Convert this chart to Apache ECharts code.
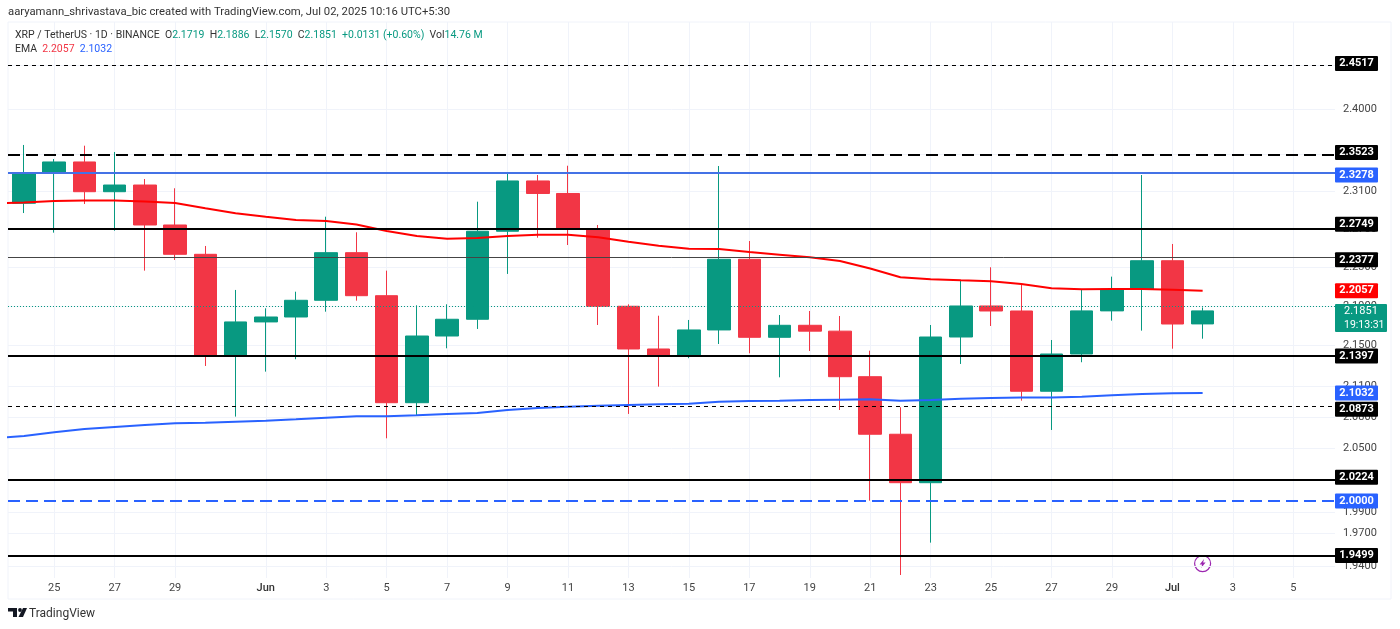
<!DOCTYPE html>
<html>
<head>
<meta charset="utf-8">
<title>XRP / TetherUS</title>
<script src="https://cdn.jsdelivr.net/npm/echarts@6/dist/echarts.min.js"></script>
<style>
    html, body { margin: 0; padding: 0; background: #fff; }
    #chart { width: 1400px; height: 629px; }
</style>
</head>
<body>
<div id="chart"></div>
<script>
const dates = ['2025-05-24', '2025-05-25', '2025-05-26', '2025-05-27', '2025-05-28', '2025-05-29', '2025-05-30', '2025-05-31',
    '2025-06-01', '2025-06-02', '2025-06-03', '2025-06-04', '2025-06-05', '2025-06-06', '2025-06-07', '2025-06-08',
    '2025-06-09', '2025-06-10', '2025-06-11', '2025-06-12', '2025-06-13', '2025-06-14', '2025-06-15', '2025-06-16',
    '2025-06-17', '2025-06-18', '2025-06-19', '2025-06-20', '2025-06-21', '2025-06-22', '2025-06-23', '2025-06-24',
    '2025-06-25', '2025-06-26', '2025-06-27', '2025-06-28', '2025-06-29', '2025-06-30', '2025-07-01', '2025-07-02']
const opens = [2.2973, 2.3302, 2.3419, 2.3097, 2.3169, 2.2742, 2.2434, 2.1397,
    2.1739, 2.1789, 2.1959, 2.2451, 2.2006, 2.0937, 2.1597, 2.1766,
    2.2676, 2.3213, 2.3078, 2.2703, 2.1898, 2.1467, 2.1392, 2.1658,
    2.2382, 2.1584, 2.1705, 2.1646, 2.1192, 2.0632, 2.0172, 2.1587,
    2.1901, 2.1850, 2.1049, 2.1417, 2.1851, 2.2072, 2.2367, 2.1719]
const closes = [2.3302, 2.3419, 2.3097, 2.3169, 2.2742, 2.2434, 2.1397, 2.1739,
    2.1789, 2.1959, 2.2451, 2.2006, 2.0937, 2.1597, 2.1766, 2.2676,
    2.3213, 2.3078, 2.2703, 2.1898, 2.1467, 2.1392, 2.1658, 2.2382,
    2.1584, 2.1705, 2.1646, 2.1192, 2.0632, 2.0172, 2.1587, 2.1901,
    2.1850, 2.1049, 2.1417, 2.1851, 2.2072, 2.2367, 2.1718, 2.1851]
const lows = [2.2869, 2.2661, 2.2965, 2.2682, 2.2264, 2.2375, 2.1298, 2.0802,
    2.1242, 2.1365, 2.1843, 2.1955, 2.0593, 2.0818, 2.1474, 2.1668,
    2.2230, 2.2608, 2.2531, 2.1708, 2.0828, 2.1094, 2.1375, 2.1517,
    2.1424, 2.1186, 2.1447, 2.0866, 2.0004, 1.9324, 1.9617, 2.1318,
    2.1698, 2.0957, 2.0673, 2.1335, 2.1752, 2.1651, 2.1470, 2.1570]
const highs = [2.3605, 2.3451, 2.3597, 2.3528, 2.3234, 2.3134, 2.2521, 2.2065,
    2.1877, 2.2047, 2.2830, 2.2665, 2.2264, 2.1908, 2.1918, 2.2990,
    2.3296, 2.3277, 2.3378, 2.2742, 2.1918, 2.1802, 2.1759, 2.3375,
    2.2573, 2.1809, 2.1850, 2.1799, 2.1450, 2.0893, 2.1708, 2.2160,
    2.2299, 2.2126, 2.1557, 2.2072, 2.2202, 2.3277, 2.2542, 2.1886]
const emaRed = [2.2981, 2.2997, 2.3003, 2.3003, 2.2992, 2.2976, 2.2919, 2.2866,
    2.2830, 2.2795, 2.2784, 2.2747, 2.2679, 2.2626, 2.2598, 2.2605,
    2.2626, 2.2640, 2.2640, 2.2612, 2.2566, 2.2524, 2.2493, 2.2490,
    2.2458, 2.2430, 2.2403, 2.2364, 2.2286, 2.2195, 2.2175, 2.2164,
    2.2154, 2.2126, 2.2082, 2.2072, 2.2075, 2.2075, 2.2068, 2.2057]
const emaBlue = [2.0616, 2.0651, 2.0683, 2.0702, 2.0721, 2.0738, 2.0743, 2.0753,
    2.0763, 2.0776, 2.0792, 2.0805, 2.0805, 2.0815, 2.0828, 2.0837,
    2.0866, 2.0886, 2.0898, 2.0908, 2.0915, 2.0922, 2.0928, 2.0947,
    2.0954, 2.0957, 2.0964, 2.0967, 2.0970, 2.0957, 2.0964, 2.0976,
    2.0983, 2.0988, 2.0988, 2.0996, 2.1010, 2.1023, 2.1029, 2.1032]
// the two EMAs already run before the first visible candle
const emaStartDate = '2025-05-23'
const emaRedStart = 2.2971
const emaBlueStart = 2.0592

const tickDates = ['2025-05-25', '2025-05-27', '2025-05-29', '2025-06-01', '2025-06-03', '2025-06-05', '2025-06-07',
    '2025-06-09', '2025-06-11', '2025-06-13', '2025-06-15', '2025-06-17', '2025-06-19', '2025-06-21', '2025-06-23',
    '2025-06-25', '2025-06-27', '2025-06-29', '2025-07-01', '2025-07-03', '2025-07-05']
const priceTicks = [2.45, 2.4, 2.35, 2.31, 2.27, 2.23, 2.19, 2.15, 2.11, 2.08, 2.05, 2.02, 1.99, 1.97, 1.94]

const levelValues = [2.4517, 2.3523, 2.3278, 2.2749, 2.2377, 2.1397, 2.0873, 2.0224, 2.0000, 1.9499]
const levelColors = ['#000', '#000', '#4472e6', '#000', '#444', '#000', '#000', '#000', '#2962ff', '#000']
const levelWidths = [1, 2, 2, 2, 1, 2, 1, 2, 2, 2]
const levelDashes = [[4, 4], [12, 6], 'solid', 'solid', 'solid', 'solid', [4, 4], 'solid', [12, 6], 'solid']
const levelTagColors = ['#000', '#000', '#2962ff', '#000', '#000', '#000', '#000', '#000', '#2962ff', '#000']

const lastPrice = 2.1851
const countdown = '19:13:31'

const upColor = '#089981'
const downColor = '#f23645'
const fontFamily = 'Roboto, "Noto Sans", sans-serif'

const toTime = d => Date.parse(d + 'T00:00:00Z')
const DAY = 86400000

// tags drawn on the price scale: levels, then the EMAs and the last price
const tagValues = [...levelValues, emaRed[emaRed.length - 1], emaBlue[emaBlue.length - 1]]
const tagColors = [...levelTagColors, '#ff0000', '#2962ff']

const renderTag = (params, api) => {
    const y = api.coord([api.value(0), api.value(1)])[1]
    return {
        type: 'group',
        children: [
            {
                type: 'rect',
                shape: { x: 1335, y: y - 7.5, width: 43, height: 15, r: 1 },
                style: { fill: tagColors[params.dataIndex] }
            },
            {
                type: 'text',
                style: {
                    x: 1356.5,
                    y,
                    text: api.value(1).toFixed(4),
                    fill: '#fff',
                    font: `bold 11px ${ fontFamily }`,
                    align: 'center',
                    verticalAlign: 'middle'
                }
            }
        ]
    }
}

const renderLastPrice = (params, api) => {
    const y = api.coord([api.value(0), api.value(1)])[1]
    return {
        type: 'group',
        children: [
            {
                type: 'rect',
                shape: { x: 1335, y: y - 7, width: 52, height: 28, r: 1 },
                style: { fill: upColor }
            },
            {
                type: 'text',
                style: {
                    x: 1344,
                    y: y + 0.5,
                    text: api.value(1).toFixed(4),
                    fill: '#fff',
                    font: `11px ${ fontFamily }`,
                    verticalAlign: 'middle'
                }
            },
            {
                type: 'text',
                style: {
                    x: 1344,
                    y: y + 14,
                    text: countdown,
                    fill: '#fff',
                    font: `10.5px ${ fontFamily }`,
                    verticalAlign: 'middle'
                }
            }
        ]
    }
}

const levelLines = levelValues.map((v, i) => ({
    yAxis: v,
    lineStyle: { color: levelColors[i], width: levelWidths[i], type: levelDashes[i] }
}))

const option = {
    animation: false,
    useUTC: true,
    backgroundColor: '#fff',
    textStyle: { fontFamily },
    title: [
        {
            text: 'aaryamann_shrivastava_bic created with TradingView.com, Jul 02, 2025 10:16 UTC+5:30',
            left: 8,
            top: 7,
            padding: 0,
            textStyle: { fontSize: 11.3, fontWeight: 'normal', color: '#333', fontFamily }
        },
        {
            text: '{k|XRP / TetherUS · 1D · BINANCE}  {k|O}{u|2.1719}  {k|H}{u|2.1886}  {k|L}{u|2.1570}  {k|C}{u|2.1851}  {u|+0.0131 (+0.60%)}  {k|Vol}{u|14.76 M}',
            left: 15,
            top: 30,
            padding: 0,
            textStyle: {
                fontSize: 10.5,
                fontWeight: 'normal',
                rich: {
                    k: { color: '#333', fontSize: 10.5, fontFamily },
                    u: { color: upColor, fontSize: 10.5, fontFamily }
                }
            }
        },
        {
            text: '{k|EMA}  {r|2.2057}  {b|2.1032}',
            left: 15,
            top: 44,
            padding: 0,
            textStyle: {
                fontSize: 10.5,
                fontWeight: 'normal',
                rich: {
                    k: { color: '#333', fontSize: 10.5, fontFamily },
                    r: { color: downColor, fontSize: 10.5, fontFamily },
                    b: { color: '#2962ff', fontSize: 10.5, fontFamily }
                }
            }
        },
        {
            text: 'TradingView',
            left: 29,
            top: 608,
            padding: 0,
            textStyle: { fontSize: 12, fontWeight: 'normal', color: '#333', fontFamily }
        }
    ],
    grid: { left: 8, right: 65, top: 22, bottom: 51 },
    xAxis: {
        type: 'value',
        min: toTime('2025-05-23') + 0.47 * DAY,
        max: toTime('2025-07-06') + 0.38 * DAY,
        axisLine: { show: false },
        axisTick: { show: false, customValues: tickDates.map(toTime) },
        splitLine: { show: true, lineStyle: { color: '#f0f3fa', width: 1 } },
        axisLabel: {
            customValues: tickDates.map(toTime),
            margin: 5,
            color: '#444',
            fontSize: 11,
            formatter: value => {
                const d = new Date(value)
                if (d.getUTCDate() !== 1) return String(d.getUTCDate())
                return d.getUTCMonth() === 5 ? '{m|Jun}' : '{m|Jul}'
            },
            rich: { m: { color: '#333', fontSize: 11, fontWeight: 500 } }
        }
    },
    yAxis: {
        type: 'log',
        logBase: Math.E,
        position: 'right',
        min: 1.9297,
        max: 2.4995,
        axisLine: { show: false },
        axisTick: { show: false, customValues: priceTicks },
        splitLine: { show: true, lineStyle: { color: '#f0f3fa', width: 1 } },
        axisLabel: {
            customValues: priceTicks,
            margin: 8,
            color: '#444',
            fontSize: 11,
            formatter: value => value.toFixed(4)
        }
    },
    series: [
        {
            type: 'candlestick',
            name: 'XRP',
            barWidth: 23,
            z: 2,
            encode: { x: 0, y: [1, 2, 3, 4] },
            itemStyle: {
                color: upColor,
                color0: downColor,
                borderColor: upColor,
                borderColor0: downColor,
                borderWidth: 1
            },
            data: dates.map((d, i) => [toTime(d), opens[i], closes[i], lows[i], highs[i]])
        },
        {
            type: 'line',
            name: 'EMA red',
            showSymbol: false,
            z: 4,
            lineStyle: { color: '#f00', width: 2 },
            data: [[toTime(emaStartDate), emaRedStart], ...dates.map((d, i) => [toTime(d), emaRed[i]])]
        },
        {
            type: 'line',
            name: 'EMA blue',
            showSymbol: false,
            z: 4,
            lineStyle: { color: '#2962ff', width: 2 },
            data: [[toTime(emaStartDate), emaBlueStart], ...dates.map((d, i) => [toTime(d), emaBlue[i]])]
        },
        {
            type: 'custom',
            name: 'tags',
            z: 6,
            silent: true,
            encode: { x: 0, y: 1 },
            renderItem: renderTag,
            data: tagValues.map(v => [toTime(dates[dates.length - 1]), v]),
            markLine: {
                silent: true,
                symbol: 'none',
                label: { show: false },
                data: [
                    ...levelLines,
                    { yAxis: lastPrice, lineStyle: { color: upColor, width: 1, type: [1, 2] } }
                ]
            }
        },
        {
            type: 'custom',
            name: 'last price',
            z: 7,
            silent: true,
            encode: { x: 0, y: 1 },
            renderItem: renderLastPrice,
            data: [[toTime(dates[dates.length - 1]), lastPrice]]
        }
    ],
    graphic: [
        {
            type: 'rect',
            silent: true,
            z: -1,
            shape: { x: 8, y: 22, width: 1383, height: 577 },
            style: { fill: 'none', stroke: '#f0f3fa' }
        },
        {
            type: 'group',
            left: 8,
            top: 608,
            children: [
                { type: 'polygon', shape: { points: [[0, 0], [9, 0], [9, 9], [5, 9], [5, 3.5], [0, 3.5]] }, style: { fill: '#131722' } },
                { type: 'circle', shape: { cx: 12, cy: 2, r: 1.9 }, style: { fill: '#131722' } },
                { type: 'polygon', shape: { points: [[15, 0], [19, 0], [15, 9], [10.5, 9]] }, style: { fill: '#131722' } }
            ]
        },
        {
            type: 'group',
            left: 1194,
            top: 555,
            children: [
                { type: 'circle', shape: { cx: 9, cy: 9, r: 8 }, style: { fill: '#fff', stroke: '#9c27b0', lineWidth: 1.2 } },
                { type: 'polygon', shape: { points: [[10.5, 4.5], [6, 10], [8.5, 10], [7.5, 13.5], [12, 8], [9.5, 8]] }, style: { fill: '#9c27b0' } }
            ]
        }
    ]
}

const chart = echarts.init(document.getElementById('chart'), null, { renderer: 'canvas' })
chart.setOption(option)
</script>
</body>
</html>
